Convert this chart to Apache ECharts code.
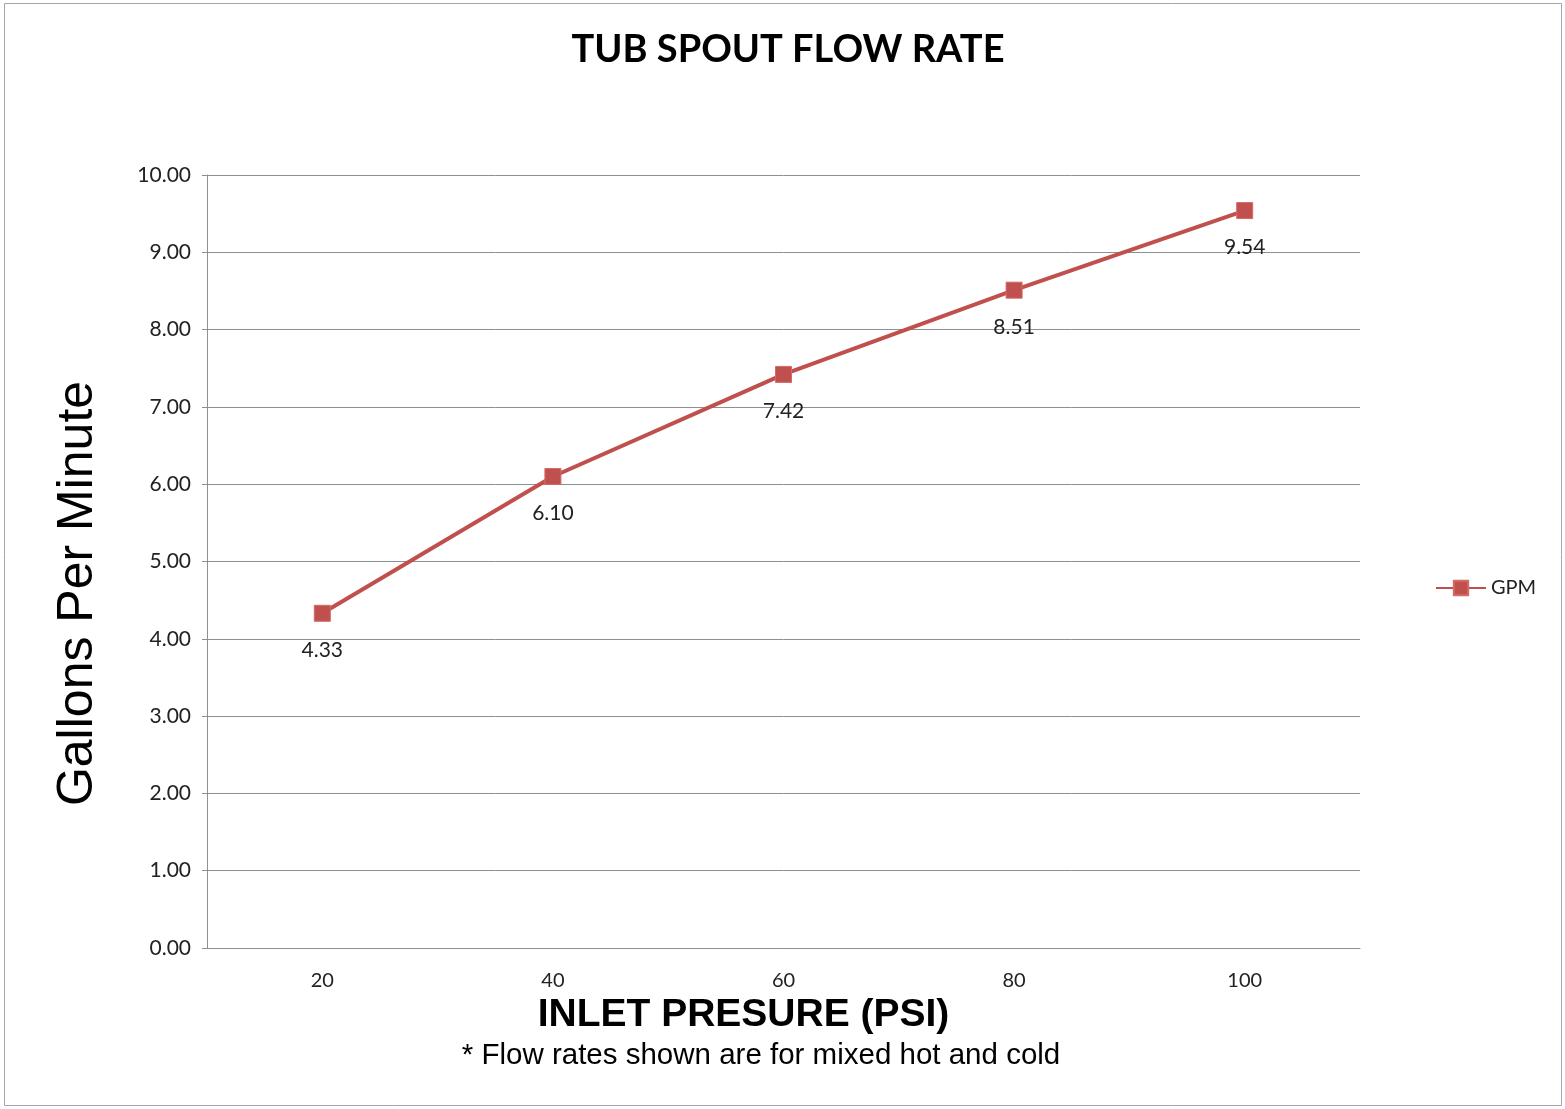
<!DOCTYPE html>
<html>
<head>
<meta charset="utf-8">
<title>Tub Spout Flow Rate</title>
<script src="https://cdn.jsdelivr.net/npm/echarts@6/dist/echarts.min.js"></script>
<style>
  html, body { margin: 0; padding: 0; background: #fff; }
  #chart { width: 1565px; height: 1109px; }
</style>
</head>
<body>
<div id="chart"></div>
<script>
  // inlet pressure (psi) vs flow rate (gpm)
  const pressures = ['20', '40', '60', '80', '100'];
  const gpm = [4.33, 6.10, 7.42, 8.51, 9.54];

  const red = '#c0504d';
  const gridGray = '#8f8f8f';
  const numFont = 'Lato';

  const chart = echarts.init(document.getElementById('chart'));

  chart.setOption({
    backgroundColor: '#fff',
    animation: false,
    title: [
      {
        text: 'TUB SPOUT FLOW RATE',
        left: 783,
        textAlign: 'center',
        top: 26,
        textStyle: { fontFamily: 'Lato', fontSize: 38, fontWeight: 'bold', color: '#000' },
      },
      {
        text: '* Flow rates shown are for mixed hot and cold',
        left: 756,
        textAlign: 'center',
        top: 1036,
        textStyle: { fontFamily: 'Liberation Sans', fontSize: 29.5, fontWeight: 'normal', color: '#000' },
      },
    ],
    graphic: [
      {
        type: 'rect',
        shape: { x: 4.5, y: 3.5, width: 1557, height: 1102 },
        style: { fill: 'none', stroke: '#a6a6a6', lineWidth: 1 },
        silent: true,
      },
    ],
    legend: {
      data: ['GPM'],
      orient: 'vertical',
      left: 1430,
      top: 573,
      itemWidth: 50,
      itemHeight: 18,
      itemGap: 8,
      textStyle: { fontFamily: numFont, fontSize: 20, color: '#222' },
    },
    grid: { left: 207, right: 205, top: 175, bottom: 161 },
    xAxis: {
      type: 'category',
      data: pressures,
      boundaryGap: true,
      name: 'INLET PRESURE (PSI)',
      nameLocation: 'middle',
      nameGap: 39,
      nameTextStyle: {
        fontFamily: 'Liberation Sans',
        fontSize: 39,
        fontWeight: 'bold',
        color: '#000',
        padding: [0, 80, 0, 0],
      },
      axisLine: { lineStyle: { color: gridGray, width: 1 } },
      axisTick: { show: false },
      axisLabel: { fontFamily: numFont, fontSize: 20, color: '#222', margin: 23 },
    },
    yAxis: {
      type: 'value',
      min: 0,
      max: 10,
      interval: 1,
      name: 'Gallons Per Minute',
      nameLocation: 'middle',
      nameGap: 104,
      nameTextStyle: {
        fontFamily: 'Liberation Sans',
        fontSize: 50,
        color: '#000',
        padding: [0, 64, 0, 0],
      },
      axisLine: { show: true, lineStyle: { color: gridGray, width: 1 } },
      axisTick: { show: true, length: 5, lineStyle: { color: gridGray } },
      axisLabel: {
        fontFamily: numFont,
        fontSize: 21,
        color: '#222',
        margin: 16,
        formatter: (v) => v.toFixed(2),
      },
      splitLine: { lineStyle: { color: gridGray, width: 1 } },
    },
    series: [
      {
        name: 'GPM',
        type: 'line',
        data: gpm,
        symbol: 'rect',
        symbolSize: 16,
        lineStyle: { color: red, width: 4 },
        itemStyle: { color: red, borderColor: '#d46a67', borderWidth: 1 },
        label: {
          show: true,
          position: 'bottom',
          distance: 18,
          fontFamily: numFont,
          fontSize: 21,
          color: '#222',
          formatter: (p) => p.value.toFixed(2),
        },
      },
    ],
  });
</script>
</body>
</html>
